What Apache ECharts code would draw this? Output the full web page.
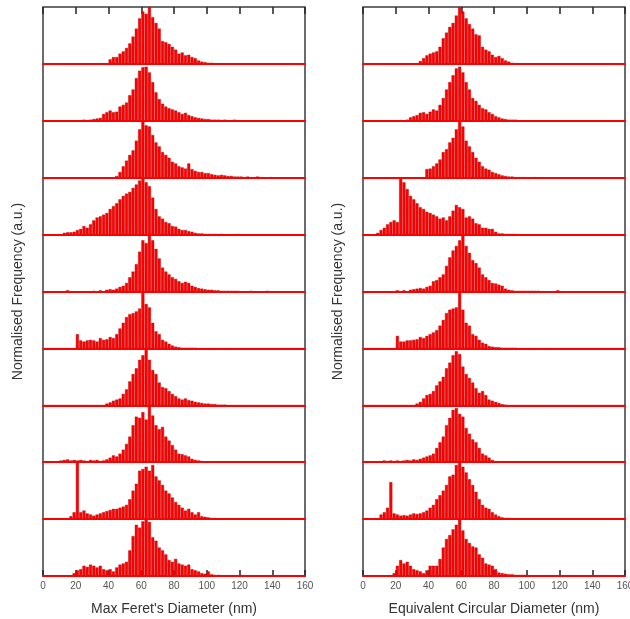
<!DOCTYPE html>
<html>
<head>
<meta charset="utf-8">
<script src="https://cdn.jsdelivr.net/npm/echarts@6/dist/echarts.min.js"></script>
<style>
html, body { margin: 0; padding: 0; background: #fff; }
#chart { width: 630px; height: 619px; }
</style>
</head>
<body>
<div id="chart"></div>
<script>
// Histogram bins: 2 nm wide, 0-160 nm (80 bins); values are normalised per row (peak ~100)
const binWidth = 2;
const binCenters = Array.from({ length: 80 }, (_, i) => i * binWidth + binWidth / 2);
const xTicks = [0, 20, 40, 60, 80, 100, 120, 140, 160];

// Max Feret's diameter distributions, top row first
const feret1 = [0,0,0,0,0,0,0,0,0,0, 0,0,0,0,0,0,0,0,0,0, 8,12,12,18,22,28,36,48,62,80, 92,88,100,82,72,62,40,38,35,30, 25,18,20,15,16,12,10,6,4,3, 2,2,1,1,1,1,0,0,0,0, 0,0,0,0,0,0,0,0,0,0, 0,0,0,0,0,0,0,0,0,0];
const feret2 = [0,0,0,0,0,0,0,0,0,0, 0,0,2,1,2,3,4,5,12,15, 18,15,16,25,28,32,45,55,75,88, 94,95,85,68,50,38,30,25,22,20, 18,15,12,14,10,8,6,5,4,3, 3,2,2,2,1,2,1,1,2,0, 0,0,0,0,0,0,0,0,0,0, 0,0,0,0,0,0,0,0,0,0];
const feret3 = [0,0,0,0,0,0,0,0,0,0, 0,0,0,0,0,0,0,0,0,0, 0,0,3,10,20,30,40,48,65,85, 100,92,90,75,62,55,45,40,35,28, 25,20,18,16,25,15,12,10,10,8, 8,6,5,4,5,4,3,3,2,2, 2,1,2,1,1,2,1,0,0,1, 0,0,0,0,0,0,0,0,0,0];
const feret4 = [0,0,0,0,0,0,3,4,4,5, 8,10,15,12,18,25,30,32,35,38, 45,50,55,62,68,72,75,82,88,95, 100,92,85,65,45,32,28,22,20,15, 14,10,8,8,6,5,3,2,2,1, 1,1,1,0,1,0,0,0,0,1, 0,0,0,0,0,0,0,0,0,0, 0,0,0,0,0,0,0,0,0,0];
const feret5 = [0,0,0,0,0,0,0,2,0,0, 0,0,0,0,0,1,0,2,0,3, 4,3,5,8,10,15,25,35,48,70, 90,85,100,90,75,58,42,35,30,25, 22,18,15,17,15,10,8,6,5,4, 3,3,2,2,1,1,1,1,1,1, 0,0,0,1,0,0,0,0,1,0, 0,0,0,0,0,0,0,0,0,0];
const feret6 = [0,0,0,0,0,0,0,0,0,0, 25,14,12,14,15,14,12,18,15,16, 20,18,25,35,45,55,60,62,65,70, 100,78,72,45,30,25,15,12,8,5, 3,2,1,1,1,1,1,0,0,0, 0,0,0,0,0,0,0,0,0,0, 0,0,0,0,0,0,0,0,0,0, 0,0,0,0,0,0,0,0,0,0];
const feret7 = [0,0,0,0,0,0,0,0,0,0, 0,0,0,0,0,0,0,0,0,3, 5,8,10,12,20,28,42,55,65,80, 88,100,80,62,55,40,32,30,25,20, 16,12,10,12,9,8,6,5,4,3, 3,2,2,1,1,1,0,0,0,0, 0,0,0,0,0,0,0,0,0,0, 0,0,0,0,0,0,0,0,0,0];
const feret8 = [0,0,0,0,0,3,4,5,3,4, 3,4,3,2,4,3,4,2,3,5, 8,12,10,15,22,32,45,65,80,78, 88,75,100,82,65,58,62,45,38,30, 22,15,14,12,10,6,4,3,2,1, 1,1,1,0,0,0,0,0,1,0, 0,0,0,0,0,0,0,0,0,0, 0,0,0,0,0,0,0,0,0,0];
const feret9 = [0,0,0,0,0,0,0,0,5,12, 100,12,15,10,8,6,8,10,12,14, 16,18,18,20,22,25,35,50,62,85, 88,92,85,95,75,68,60,50,45,38, 30,25,20,15,18,12,8,12,5,4, 3,2,2,1,1,1,1,0,0,1, 0,0,0,0,0,0,0,0,0,0, 0,0,0,0,0,0,0,0,0,0];
const feret10 = [0,0,0,0,0,0,0,0,0,5, 10,12,18,16,20,18,15,18,12,10, 12,8,15,20,22,25,45,70,90,85, 96,100,95,68,62,50,45,38,28,25, 30,22,20,18,20,12,10,8,5,4, 8,3,2,2,1,1,0,0,1,0, 2,1,0,0,0,0,0,0,0,0, 0,0,0,0,0,0,0,0,0,0];

// Equivalent circular diameter distributions, top row first
const ecd1 = [0,0,0,0,0,0,0,0,0,0, 0,0,0,0,0,0,0,5,10,15, 18,20,22,30,45,55,65,72,85,100, 92,80,70,62,52,50,30,25,22,16, 12,14,10,6,4,2,0,0,0,0, 0,0,0,0,0,0,0,0,0,0, 0,0,0,0,0,0,0,0,0,0, 0,0,0,0,0,0,0,0,0,0];
const ecd2 = [0,0,0,0,0,0,0,0,0,0, 0,0,0,2,6,8,10,14,15,12, 16,20,18,28,40,55,68,80,92,95, 85,68,55,40,35,28,22,20,15,12, 8,6,4,3,2,2,2,0,0,0, 0,0,0,0,0,0,0,0,0,0, 0,0,0,0,0,0,0,0,0,0, 0,0,0,0,0,0,0,0,0,0];
const ecd3 = [0,0,0,0,0,0,0,0,0,0, 0,0,0,0,0,0,0,0,0,15, 16,20,25,32,45,50,62,70,85,100, 90,65,55,45,35,28,20,16,14,10, 8,6,4,3,2,2,1,1,1,1, 0,0,1,0,0,0,0,0,0,0, 0,0,0,0,0,0,0,0,0,0, 0,0,0,0,0,0,0,0,0,0];
const ecd4 = [0,0,0,0,3,8,12,18,22,25, 22,100,92,80,68,62,55,48,45,40, 38,35,32,28,30,25,32,42,52,48, 45,30,32,28,20,18,12,12,10,10, 5,2,2,1,1,1,1,0,0,0, 0,0,0,0,0,0,0,0,0,0, 0,0,0,0,0,0,0,0,0,0, 0,0,0,0,0,0,0,0,0,0];
const ecd5 = [0,0,0,0,0,0,0,0,0,0, 2,0,2,0,3,4,5,6,5,8, 10,18,20,25,30,45,60,72,80,90, 100,80,68,55,50,42,30,25,20,15, 14,12,10,5,3,2,1,1,1,1, 1,1,1,1,0,0,0,0,0,2, 0,0,0,0,0,0,0,0,0,0, 0,0,0,0,0,0,0,0,0,0];
const ecd6 = [0,0,0,0,0,0,0,0,0,0, 22,12,12,14,14,15,16,20,18,22, 25,28,32,40,50,62,68,70,72,100, 68,45,40,25,22,15,10,8,4,3, 2,2,1,1,1,1,1,0,0,0, 0,0,0,0,0,0,0,0,0,0, 0,0,0,0,0,0,0,0,0,0, 0,0,0,0,0,0,0,0,0,0];
const ecd7 = [0,0,0,0,0,0,0,0,0,0, 0,0,0,0,0,0,3,6,12,18, 20,25,35,42,50,65,75,88,95,90, 68,55,48,40,30,22,25,18,10,8, 6,4,2,1,0,0,0,0,0,0, 0,0,0,0,0,0,0,0,0,0, 0,0,0,0,0,0,0,0,0,0, 0,0,0,0,0,0,0,0,0,0];
const ecd8 = [0,0,0,0,0,2,3,2,3,2, 3,2,3,4,3,5,4,6,8,10, 12,15,25,35,45,65,78,92,95,85, 80,60,50,40,35,25,15,12,8,4, 2,1,1,1,1,0,0,0,0,0, 0,0,0,0,0,0,0,0,0,0, 0,0,0,0,0,0,0,0,0,0, 0,0,0,0,0,0,0,0,0,0];
const ecd9 = [0,0,0,0,0,8,12,20,65,10, 8,6,7,6,8,10,9,10,12,15, 20,25,35,42,50,60,75,78,95,100, 92,82,70,60,48,35,25,20,18,12, 8,5,3,2,2,1,1,0,0,0, 0,0,0,0,0,0,0,0,0,0, 0,0,0,0,0,0,0,0,0,0, 0,0,0,0,0,0,0,0,0,0];
const ecd10 = [0,0,0,0,0,0,0,0,0,5, 18,28,22,25,18,12,10,8,5,10, 18,18,18,30,50,65,72,82,90,100, 80,65,58,52,50,38,32,22,20,18, 12,6,5,4,3,3,2,2,2,2, 1,0,0,0,0,0,1,1,0,0, 0,0,0,0,0,0,0,0,0,0, 0,0,0,0,0,0,0,0,0,0];

const yTitle = 'Normalised Frequency (a.u.)';
const panels = [
  { left: 43, title: "Max Feret's Diameter (nm)", rows: [feret1, feret2, feret3, feret4, feret5, feret6, feret7, feret8, feret9, feret10] },
  { left: 363, title: 'Equivalent Circular Diameter (nm)', rows: [ecd1, ecd2, ecd3, ecd4, ecd5, ecd6, ecd7, ecd8, ecd9, ecd10] }
];

const TOP = 7, PANEL_H = 569, PANEL_W = 262;
const FONT = 'Liberation Sans, Arial, sans-serif';

const grid = [], xAxis = [], yAxis = [], series = [];

panels.forEach(p => {
  const rowH = PANEL_H / p.rows.length;
  // outer frame with tick marks, tick labels and axis titles
  const fg = grid.length;
  grid.push({ left: p.left, top: TOP, width: PANEL_W, height: PANEL_H, show: true,
    outerBoundsMode: 'none', containLabel: false,
    borderColor: '#3c3c3c', borderWidth: 1.5, backgroundColor: 'transparent' });
  xAxis.push({ gridIndex: fg, type: 'value', position: 'bottom', min: xTicks[0], max: xTicks[xTicks.length - 1],
    interval: xTicks[1] - xTicks[0],
    axisLine: { show: false },
    axisTick: { inside: true, length: 6, lineStyle: { color: '#222', width: 1.5 } },
    axisLabel: { color: '#555', fontSize: 10, margin: 5, fontFamily: FONT, hideOverlap: false },
    splitLine: { show: false },
    name: p.title, nameLocation: 'middle', nameGap: 26,
    nameTextStyle: { color: '#333', fontSize: 14, fontFamily: FONT } });
  xAxis.push({ gridIndex: fg, type: 'value', position: 'top', min: xTicks[0], max: xTicks[xTicks.length - 1],
    interval: xTicks[1] - xTicks[0],
    axisLine: { show: false },
    axisTick: { inside: true, length: 7, lineStyle: { color: '#222', width: 1.5 } },
    axisLabel: { show: false }, splitLine: { show: false } });
  yAxis.push({ gridIndex: fg, type: 'value', min: 0, max: 1,
    axisLine: { show: false }, axisTick: { show: false }, axisLabel: { show: false }, splitLine: { show: false },
    name: yTitle, nameLocation: 'middle', nameGap: 18, nameRotate: 90,
    nameTextStyle: { color: '#333', fontSize: 14, fontFamily: FONT } });

  // one strip per histogram, stacked top to bottom
  p.rows.forEach((vals, k) => {
    const g = grid.length;
    grid.push({ left: p.left, top: TOP + k * rowH, width: PANEL_W, height: rowH,
      outerBoundsMode: 'none', containLabel: false });
    const xi = xAxis.length, yi = yAxis.length;
    xAxis.push({ gridIndex: g, type: 'value', min: xTicks[0], max: xTicks[xTicks.length - 1], z: 5,
      axisLine: { show: true, onZero: false, lineStyle: { color: '#ff0000', width: 2 } },
      axisTick: { show: false }, axisLabel: { show: false }, splitLine: { show: false } });
    yAxis.push({ gridIndex: g, type: 'value', min: 0, max: 100, show: false });
    series.push({ type: 'bar', xAxisIndex: xi, yAxisIndex: yi,
      data: binCenters.map((c, i) => [c, vals[i]]),
      barWidth: 3,
      itemStyle: { color: '#ff0000', borderColor: '#b00000', borderWidth: 0.4 },
      silent: true, animation: false });
  });
});

const chart = echarts.init(document.getElementById('chart'), null, { renderer: 'canvas' });
chart.setOption({ animation: false, backgroundColor: '#fff', grid, xAxis, yAxis, series });
</script>
</body>
</html>
